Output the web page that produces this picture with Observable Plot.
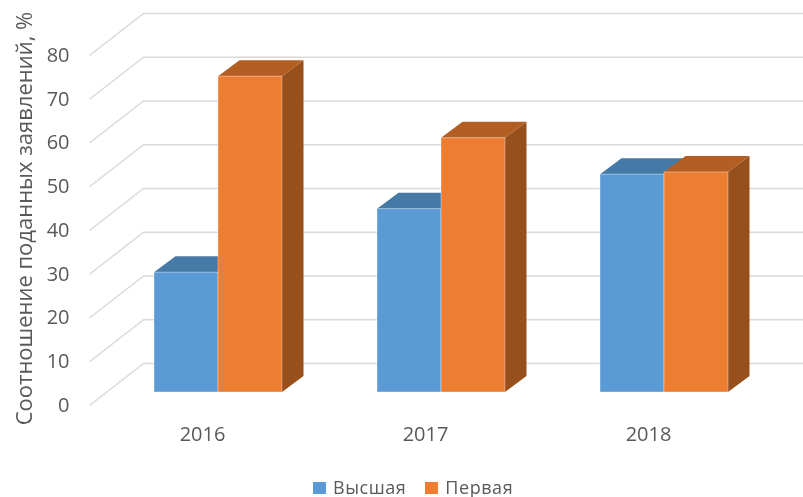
<!DOCTYPE html>
<html><head><meta charset="utf-8">
<script src="https://cdn.jsdelivr.net/npm/d3@7"></script>
<script src="https://cdn.jsdelivr.net/npm/@observablehq/plot@0.6"></script>
<style>
html,body{margin:0;padding:0;background:#fff}
#legend{height:21px;display:flex;align-items:center;font:18px "Open Sans",sans-serif;letter-spacing:.55px;color:#595959;padding-left:313px;box-sizing:border-box;filter:blur(0.4px)}
#legend i{display:inline-block;flex:none;width:13px;height:12px;margin:3px 7px 0 0}
#legend span{display:inline-block;line-height:20px;height:20px;margin-right:19px;white-space:nowrap}
</style></head><body>
<div id="chart"></div><div id="legend"></div>
<script>
const years = ["2016","2017","2018"];
const visshaya = [27.4, 41.9, 49.8];
const pervaya = [72.2, 58.1, 50.3];
const ticks = [0,10,20,30,40,50,60,70,80];
const yLabel = "Соотношение поданных заявлений, %";
const names = ["Высшая","Первая"];
const front = ["#5B9BD5","#ED7D31"];
const topFace = ["#467AA6","#B35E22"];
const sideFace = ["#3F6F9A","#974F1C"];

// scale geometry, px
const W=803,H=476, pxPerCat=223, pxPerUnit=4.375, x0=218, y0=392;
const barW=64/pxPerCat, dX=21.5/pxPerCat, dY=16/pxPerUnit;
const floorFrontX=(89-x0)/pxPerCat, floorFrontY=-13/pxPerUnit;
const wallX=(143-x0)/pxPerCat, wallY=29/pxPerUnit;

const bars=(vals,s)=>vals.map((v,i)=>({
  key:i, v, x1:s===0?i-barW:i, x2:s===0?i:i+barW
}));
const side=b=>b.flatMap(d=>[
  {key:d.key,x:d.x2,y1:0,y2:d.v},
  {key:d.key,x:d.x2+dX,y1:dY,y2:d.v+dY}]);
const top_=b=>b.flatMap(d=>[
  {key:d.key,y:d.v,x1:d.x1,x2:d.x2},
  {key:d.key,y:d.v+dY,x1:d.x1+dX,x2:d.x2+dX}]);
const layer=(vals,s)=>{const b=bars(vals,s);return [
  Plot.areaY(side(b),{x:"x",y1:"y1",y2:"y2",z:"key",fill:sideFace[s]}),
  Plot.areaX(top_(b),{y:"y",x1:"x1",x2:"x2",z:"key",fill:topFace[s]}),
  Plot.rect(b,{x1:"x1",x2:"x2",y1:()=>0,y2:"v",fill:front[s],stroke:"#fff",strokeOpacity:0.35,strokeWidth:1})
];};

const font='"Open Sans",sans-serif';
const chart=Plot.plot({
  width:W,height:H,margin:0,
  style:{background:"#fff",fontFamily:font,overflow:"hidden",filter:"blur(0.4px)"},
  x:{type:"linear",domain:[-x0/pxPerCat,(W-x0)/pxPerCat],range:[0,W],axis:null},
  y:{type:"linear",domain:[(y0-H)/pxPerUnit,y0/pxPerUnit],range:[H,0],axis:null},
  marks:[
    Plot.ruleY(ticks,{y:d=>d+wallY,x1:wallX,x2:(W-x0)/pxPerCat,stroke:"#D9D9D9",strokeWidth:1.5}),
    Plot.link(ticks,{x1:floorFrontX,y1:d=>d+floorFrontY,x2:wallX,y2:d=>d+wallY,stroke:"#D9D9D9",strokeWidth:1.5}),
    ...layer(visshaya,0),
    ...layer(pervaya,1),
    Plot.text(ticks,{x:floorFrontX,y:d=>d+floorFrontY,text:d=>String(d),dx:-20,textAnchor:"end",fontSize:20,fill:"#595959"}),
    Plot.text(years,{x:(d,i)=>i,y:()=>0,text:d=>d,dx:-16,dy:42,fontSize:20,fill:"#595959"}),
    Plot.text([yLabel],{frameAnchor:"left",text:d=>d,textAnchor:"middle",rotate:-90,dx:24,dy:-20,fontSize:22,fill:"#595959"})
  ]
});
document.getElementById("chart").append(chart);
chart.style.display="block";
const lg=document.getElementById("legend");
names.forEach((n,i)=>{
  const c=document.createElement("i");c.style.background=front[i];
  const t=document.createElement("span");t.textContent=n;
  lg.append(c,t);
});
</script></body></html>
